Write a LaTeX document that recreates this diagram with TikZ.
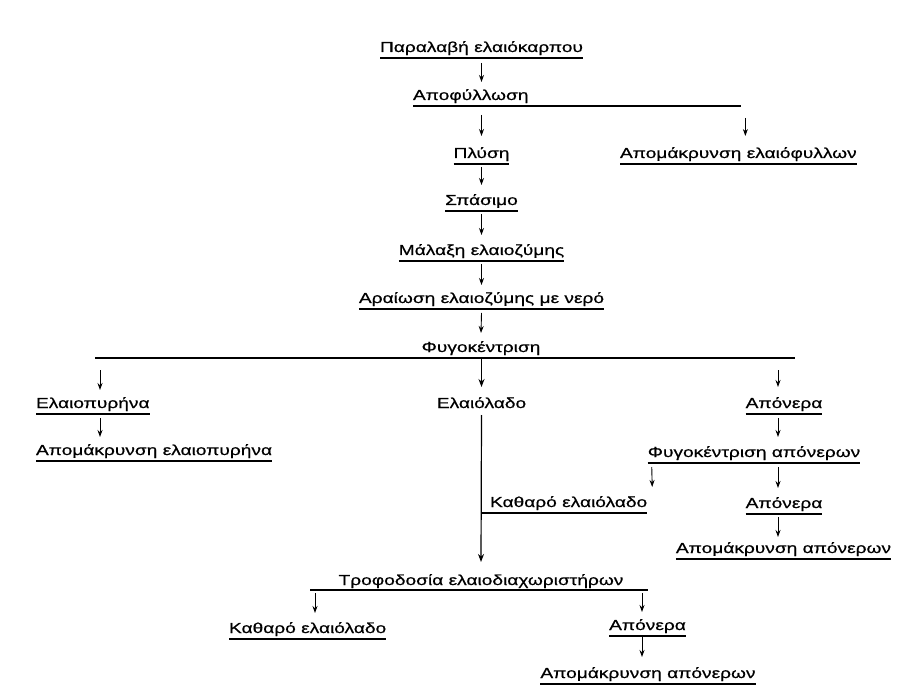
\documentclass[tikz,border=0pt]{standalone}
\usepackage{fontspec}
\setmainfont[FakeStretch=1.32,FakeBold=0.6]{Liberation Sans}
\usetikzlibrary{arrows.meta,calc}
\begin{document}
\begin{tikzpicture}[x=1pt,y=1pt,
  lbl/.style={inner sep=0pt,outer sep=0pt,font=\fontsize{14.5}{16}\selectfont,anchor=base},
  lblw/.style={lbl,anchor=base west},
  ul/.style={line width=1.8pt},
  arr/.style={line width=0.9pt,-{Stealth[length=7pt,width=5pt]}},
  vline/.style={line width=1.2pt,-{Stealth[length=8pt,width=6pt]}}]
\fill[white] (0,0) rectangle (915,-700);
\useasboundingbox (0,0) rectangle (915,-700);

% nodes
\node[lbl]  (n1)  at (481.5,-52)  {Παραλαβή ελαιόκαρπου};
\node[lblw] (n2)  at (413,-100)   {Αποφύλλωση};
\node[lbl]  (n3)  at (481.5,-158) {Πλύση};
\node[lblw] (n4)  at (620,-158)   {Απομάκρυνση ελαιόφυλλων};
\node[lbl]  (n5)  at (481.5,-205) {Σπάσιμο};
\node[lbl]  (n6)  at (481.5,-255) {Μάλαξη ελαιοζύμης};
\node[lbl]  (n7)  at (481.5,-303) {Αραίωση ελαιοζύμης με νερό};
\node[lbl]  (n8)  at (481,-352)   {Φυγοκέντριση};
\node[lblw] (n9)  at (36,-408)    {Ελαιοπυρήνα};
\node[lbl]  (n10) at (481.5,-408) {Ελαιόλαδο};
\node[lbl]  (n11) at (784,-408)   {Απόνερα};
\node[lblw] (n12) at (36,-455)    {Απομάκρυνση ελαιοπυρήνα};
\node[lbl]  (n13) at (754,-457)   {Φυγοκέντριση απόνερων};
\node[lblw] (n14) at (490,-507)   {Καθαρό ελαιόλαδο};
\node[lbl]  (n15) at (784,-508)   {Απόνερα};
\node[lbl]  (n16) at (783.5,-553) {Απομάκρυνση απόνερων};
\node[lbl]  (n17) at (481,-585)   {Τροφοδοσία ελαιοδιαχωριστήρων};
\node[lblw] (n18) at (229,-633)   {Καθαρό ελαιόλαδο};
\node[lbl]  (n19) at (647.5,-630) {Απόνερα};
\node[lbl]  (n20) at (648,-678)   {Απομάκρυνση απόνερων};

% line ends
\coordinate (b2)  at (741,-106);
\coordinate (fl)  at (95,-358);
\coordinate (fr)  at (795,-358);
\coordinate (tl)  at (310,-590);
\coordinate (tr)  at (648,-590);

% underlines
\foreach \n in {n1,n3,n4,n5,n6,n7,n9,n11,n12,n13,n15,n16,n18,n19,n20}
  \draw[ul] ($(\n.base west)+(0,-6)$) -- ($(\n.base east)+(0,-6)$);
\draw[ul] ($(n2.base west)+(0,-6)$) -- (b2);
\draw[ul] (fl) -- (fr);
\draw[ul] (tl) -- (tr);
\draw[ul] ($(n14.base west)+(-8,-6)$) -- ($(n14.base east)+(0,-6)$);

% arrows
\draw[arr] ($(n1.base)+(0,-11)$) -- ($(n2.base -| n1.base)+(0,18)$);
\draw[arr] ($(n3.base |- b2)+(0,-9)$) -- ($(n3.base)+(0,22)$);
\draw[arr] ($(n4.base |- b2)+(7,-12)$) -- ($(n4.base)+(7,22)$);
\draw[arr] ($(n3.base)+(0,-9)$) -- ($(n5.base)+(0,20)$);
\draw[arr] ($(n5.base)+(0,-9)$) -- ($(n6.base)+(0,20)$);
\draw[arr] ($(n6.base)+(0,-9)$) -- ($(n7.base)+(0,18)$);
\draw[arr] ($(n7.base)+(0,-10)$) -- ($(n8.base)+(0,19)$);
\draw[arr] ($(fl)+(5,-12)$) -- ($(fl |- n9.base)+(5,18)$);
\draw[vline] (n10.base |- fl) -- ($(n10.base)+(0,21)$);
\draw[arr] ($(n11.base |- fl)+(-6,-12)$) -- ($(n11.base)+(-6,21)$);
\draw[arr] ($(n9.base west)+(64,-10)$) -- ($(n12.base west)+(64,18)$);
\draw[arr] ($(n11.base)+(-6,-10)$) -- ($(n13.base)+(24,20)$);
\draw[arr] ($(n13.base west)+(4,-10)$) -- ($(n14.base east)+(5,20)$);
\draw[arr] ($(n13.base)+(24,-10)$) -- ($(n15.base)+(-6,20)$);
\draw[arr] ($(n15.base)+(-6,-9)$) -- ($(n16.base)+(-5.5,16)$);
\draw[vline] ($(n10.base)+(0,-7)$) -- ($(n17.base)+(0,23)$);
\draw[arr] ($(tl)+(5,-3)$) -- ($(n18.base west)+(86,20)$);
\draw[arr] ($(n19.base |- tr)+(-5.5,-3)$) -- ($(n19.base)+(-5.5,18)$);
\draw[arr] ($(n19.base)+(-5.5,-7)$) -- ($(n20.base)+(-6,21)$);
\end{tikzpicture}
\end{document}
